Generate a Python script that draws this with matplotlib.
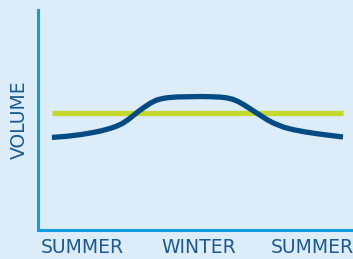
import numpy as np
import matplotlib.pyplot as plt

# seasonal volume sketch: steady supply vs. demand peaking in winter
season_labels = ['SUMMER', 'WINTER', 'SUMMER']
season_pos = [1.05, 5.05, 8.95]

t = [0.0, 0.5, 1.0, 1.4, 1.7, 2.0, 2.2, 2.4, 2.6, 2.8, 3.0, 3.2, 3.4, 3.6,
     3.8, 4.0, 4.3, 4.7, 5.1, 5.5, 5.8, 6.0, 6.2, 6.4, 6.6, 6.8, 7.0, 7.2,
     7.4, 7.6, 7.8, 8.0, 8.3, 8.7, 9.1, 9.5, 10.0]
demand = [4.21, 4.26, 4.34, 4.43, 4.51, 4.62, 4.71, 4.83, 5.00, 5.21, 5.42,
          5.61, 5.78, 5.91, 5.98, 6.02, 6.05, 6.06, 6.07, 6.06, 6.04, 6.01,
          5.95, 5.84, 5.69, 5.52, 5.35, 5.18, 5.01, 4.87, 4.76, 4.66, 4.56,
          4.46, 4.38, 4.31, 4.23]
supply_t = [0.0, 10.0]
supply = [5.32, 5.32]

bg = '#dcecf8'
axis_col = '#109ddf'
text_col = '#1b5a94'

fig = plt.figure(figsize=(3.53, 2.59), dpi=100, facecolor=bg)
ax = fig.add_axes([0.1076, 0.112, 0.892, 0.849], facecolor=bg)

ax.plot(supply_t, supply, color='#c4d82e', lw=3.8, solid_capstyle='butt')
ax.plot(t, demand, color='#034b85', lw=3.8, solid_capstyle='butt',
        solid_joinstyle='round')

ax.set_xlim(-0.48, 10.34)
ax.set_ylim(0, 10)

for s in ['top', 'right']:
    ax.spines[s].set_visible(False)
for s in ['left', 'bottom']:
    ax.spines[s].set_color(axis_col)
    ax.spines[s].set_linewidth(2.2)

ax.set_yticks([])
ax.set_xticks(season_pos)
ax.set_xticklabels(season_labels, fontsize=13.5, color=text_col)
ax.tick_params(axis='x', length=0, pad=6)
ax.set_ylabel('VOLUME', fontsize=13.5, color=text_col, labelpad=6.5)

fig.savefig('out.png', dpi=100, facecolor=bg)
